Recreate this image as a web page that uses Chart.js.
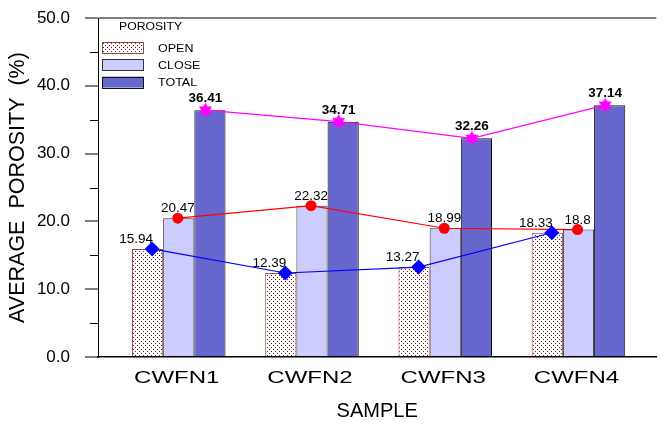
<!DOCTYPE html>
<html>
<head>
<meta charset="utf-8">
<script src="https://cdn.jsdelivr.net/npm/chart.js@4.4.1/dist/chart.umd.min.js"></script>
<style>
  html, body { margin: 0; padding: 0; background: #fff; }
</style>
</head>
<body>
<canvas id="porosityChart" width="665" height="425"></canvas>
<script>
const categories = ['CWFN1', 'CWFN2', 'CWFN3', 'CWFN4'];
const openPorosity = [15.94, 12.39, 13.27, 18.33];
const closePorosity = [20.47, 22.32, 18.99, 18.8];
const totalPorosity = [36.41, 34.71, 32.26, 37.14];
const seriesNames = ['OPEN', 'CLOSE', 'TOTAL'];
const legendTitle = 'POROSITY';

const FONT = '"Liberation Sans", Arial, sans-serif';
Chart.defaults.font.family = FONT;
Chart.defaults.color = '#000';

// dotted fill for the OPEN bars
function makeDots() {
  const c = document.createElement('canvas');
  c.width = 4; c.height = 4;
  const g = c.getContext('2d');
  g.fillStyle = '#fff';
  g.fillRect(0, 0, 4, 4);
  g.fillStyle = '#6e1414';
  g.fillRect(1, 1, 1, 1);
  g.fillRect(3, 3, 1, 1);
  return g.createPattern(c, 'repeat');
}

// six pointed star marker
function makeStar(r, color) {
  const s = Math.ceil(r * 2) + 2;
  const c = document.createElement('canvas');
  c.width = s; c.height = s;
  const g = c.getContext('2d');
  g.fillStyle = color;
  [-Math.PI / 2, Math.PI / 2].forEach(start => {
    g.beginPath();
    for (let k = 0; k < 3; k++) {
      const a = start + k * 2 * Math.PI / 3;
      g.lineTo(s / 2 + r * Math.cos(a), s / 2 + r * Math.sin(a));
    }
    g.closePath();
    g.fill();
  });
  return c;
}

function toXY(values, shift) {
  return values.map((v, i) => ({ x: i + 1 + shift, y: v }));
}

const dotPattern = makeDots();

const decorPlugin = {
  id: 'decor',
  afterDraw(chart) {
    const ctx = chart.ctx;
    const xs = chart.scales.x;
    const ys = chart.scales.y;
    const area = chart.chartArea;
    ctx.save();

    // minor ticks on y
    ctx.strokeStyle = '#000';
    ctx.lineWidth = 1;
    for (let v = 5; v < 50; v += 10) {
      const py = Math.round(ys.getPixelForValue(v)) + 0.5;
      ctx.beginPath();
      ctx.moveTo(area.left - 8, py);
      ctx.lineTo(area.left, py);
      ctx.stroke();
    }

    // category labels (wide lettering)
    ctx.fillStyle = '#000';
    ctx.font = '16px ' + FONT;
    ctx.textAlign = 'center';
    ctx.textBaseline = 'alphabetic';
    categories.forEach((c, i) => {
      ctx.save();
      ctx.translate(xs.getPixelForValue(i + 1) - 2, xs.top + 26);
      ctx.scale(1.5, 1);
      ctx.fillText(c, 0, 0);
      ctx.restore();
    });

    // value labels
    const lineMetas = [3, 4, 5].map(i => chart.getDatasetMeta(i));
    const sets = [openPorosity, closePorosity, totalPorosity];
    lineMetas.forEach((meta, s) => {
      meta.data.forEach((pt, i) => {
        const txt = String(sets[s][i]);
        if (s === 0) {
          ctx.font = '13.5px ' + FONT;
          ctx.textAlign = 'right';
          ctx.fillText(txt, pt.x + 1, pt.y - 6);
        } else if (s === 1) {
          ctx.font = '13.5px ' + FONT;
          ctx.textAlign = 'center';
          ctx.fillText(txt, pt.x, pt.y - 6);
        } else {
          ctx.font = 'bold 13.5px ' + FONT;
          ctx.textAlign = 'center';
          ctx.fillText(txt, pt.x, pt.y - 8);
        }
      });
    });

    // legend
    const lx = area.left + 4;
    ctx.textAlign = 'left';
    ctx.font = '10px ' + FONT;
    ctx.save();
    ctx.translate(area.left + 21, area.top + 12);
    ctx.scale(1.22, 1);
    ctx.fillText(legendTitle, 0, 0);
    ctx.restore();
    [0, 1, 2].forEach(k => {
      const ds = chart.data.datasets[k];
      const cy = area.top + 29.5 + k * 17.3;
      ctx.fillStyle = ds.backgroundColor;
      ctx.fillRect(lx, cy - 5.5, 42, 11);
      ctx.strokeStyle = ds.borderColor;
      ctx.lineWidth = 1;
      ctx.strokeRect(lx + 0.5, Math.round(cy - 5.5) + 0.5, 41, 11);
      ctx.fillStyle = '#000';
      ctx.save();
      ctx.translate(lx + 56, cy + 4);
      ctx.scale(1.25, 1);
      ctx.fillText(ds.label, 0, 0);
      ctx.restore();
    });

    ctx.restore();
  }
};

const barOpts = { categoryPercentage: 0.702, barPercentage: 1, borderWidth: 1, order: 2 };

new Chart(document.getElementById('porosityChart'), {
  type: 'bar',
  data: {
    datasets: [
      Object.assign({ label: seriesNames[0], data: toXY(openPorosity, 0), backgroundColor: dotPattern, borderColor: '#8b4c4c' }, barOpts),
      Object.assign({ label: seriesNames[1], data: toXY(closePorosity, 0), backgroundColor: '#ccccff', borderColor: '#333' }, barOpts),
      Object.assign({ label: seriesNames[2], data: toXY(totalPorosity, 0), backgroundColor: '#6666cc', borderColor: '#111' }, barOpts),
      {
        type: 'line', label: seriesNames[0] + ' line', data: toXY(openPorosity, -0.2),
        borderColor: '#0000ff', backgroundColor: '#0000ff', borderWidth: 1.2,
        pointStyle: 'rectRot', pointRadius: 7.5, pointBorderWidth: 0, order: 1
      },
      {
        type: 'line', label: seriesNames[1] + ' line', data: toXY(closePorosity, -0.007),
        borderColor: '#ff0000', backgroundColor: '#ff0000', borderWidth: 1.2,
        pointStyle: 'circle', pointRadius: 5.5, pointBorderWidth: 0, order: 1
      },
      {
        type: 'line', label: seriesNames[2] + ' line', data: toXY(totalPorosity, 0.2),
        borderColor: '#ff00ff', backgroundColor: '#ff00ff', borderWidth: 1.2,
        pointStyle: makeStar(7.5, '#ff00ff'), pointRadius: 7.5, order: 1
      }
    ]
  },
  options: {
    responsive: false,
    animation: false,
    layout: { padding: { top: 18, right: 0, bottom: 0, left: 0 } },
    plugins: { legend: { display: false }, tooltip: { enabled: false } },
    scales: {
      x: {
        type: 'linear',
        offset: false,
        bounds: 'data',
        min: 0.394,
        max: 4.584,
        afterBuildTicks: axis => { axis.ticks = categories.map((c, i) => ({ value: i + 1 })); },
        ticks: { display: false },
        grid: { display: false, offset: false },
        border: { color: '#000', width: 1.5 },
        title: { display: true, text: 'SAMPLE', font: { size: 20 }, color: '#000', padding: { top: 0, bottom: 2 } },
        afterFit: axis => { axis.height = 68; axis.paddingLeft = 0; axis.paddingRight = 0; }
      },
      y: {
        min: 0,
        max: 50,
        ticks: {
          stepSize: 5,
          padding: 15,
          font: { size: 17 },
          color: '#000',
          callback: v => (v % 10 === 0 ? v.toFixed(1) : '')
        },
        grid: {
          drawOnChartArea: true,
          color: c => (c.tick && c.tick.value === 50 ? '#808080' : 'rgba(0,0,0,0)'),
          lineWidth: 2,
          tickLength: 13,
          tickWidth: 1,
          tickColor: c => (c.tick && c.tick.value % 10 === 0 ? '#000' : 'rgba(0,0,0,0)')
        },
        border: { color: '#000', width: 1 },
        title: { display: true, text: 'AVERAGE  POROSITY  (%)', font: { size: 21.5 }, color: '#000', padding: { top: 5, bottom: 0 } },
        afterFit: axis => { axis.width = 98; axis.paddingTop = 0; axis.paddingBottom = 0; }
      }
    }
  },
  plugins: [decorPlugin]
});
</script>
</body>
</html>
